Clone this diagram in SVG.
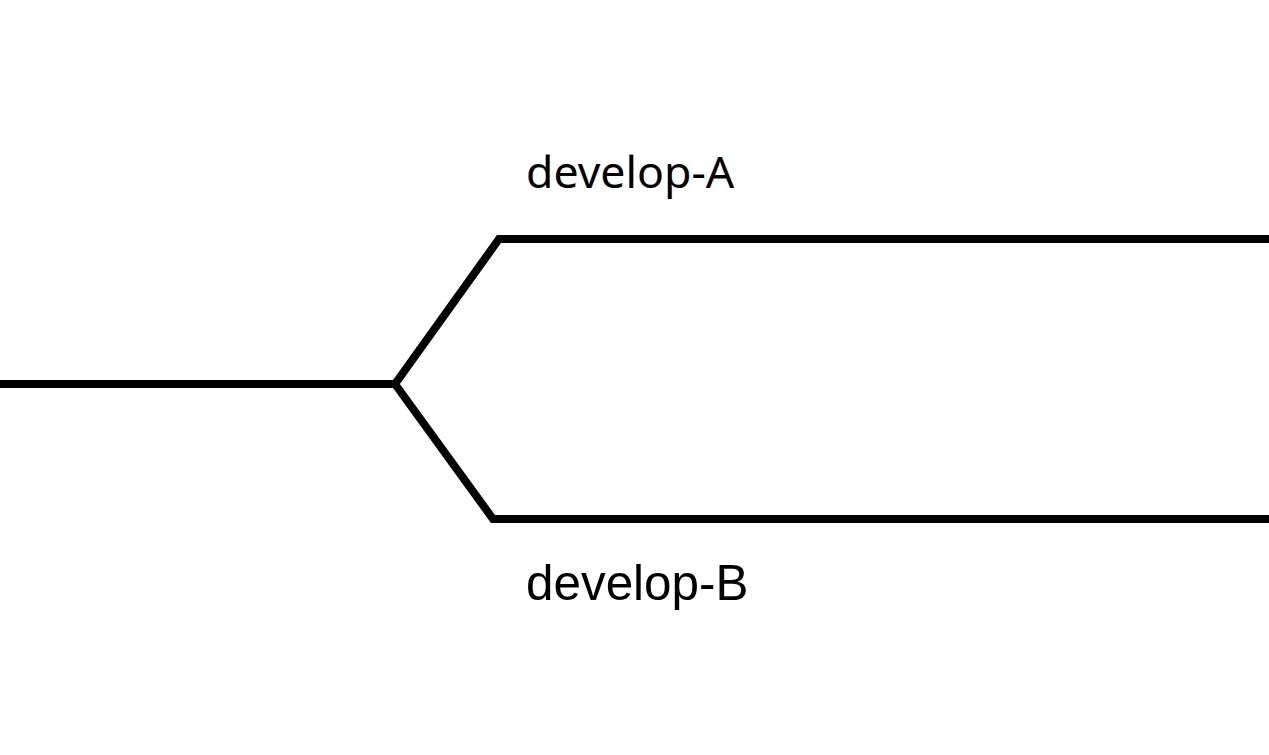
<svg xmlns="http://www.w3.org/2000/svg" width="1269" height="755" viewBox="0 0 1269 755">
<style>
.br{fill:none;stroke:#000;stroke-width:8;stroke-linejoin:miter;stroke-linecap:butt}
.la{font-family:"Noto Sans","Open Sans",sans-serif;font-size:44.6px;fill:#000}
.lb{font-family:"Liberation Sans",Arial,sans-serif;font-size:49.4px;fill:#000}
</style>
<rect width="1269" height="755" fill="#fff"/>
<g id="connectors">
<path class="br" d="M0,384 H395 L499,239 H1269"/>
<path class="br" d="M395,384 L493,519 H1269"/>
</g>
<g id="develop-A"><text class="la" x="526" y="188">develop-A</text></g>
<g id="develop-B"><text class="lb" x="526" y="600">develop-B</text></g>
</svg>
